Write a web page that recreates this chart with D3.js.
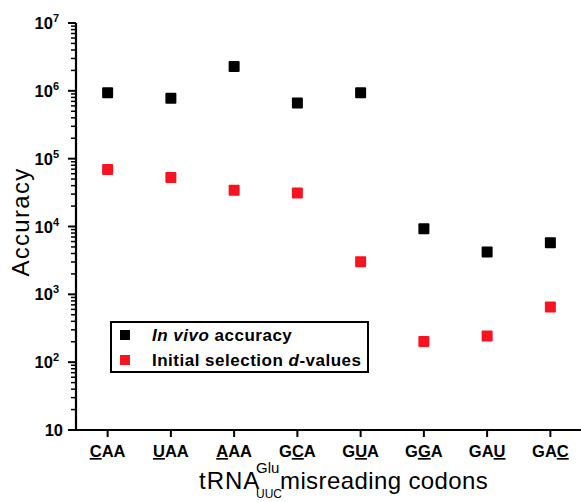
<!DOCTYPE html>
<html>
<head>
<meta charset="utf-8">
<script src="https://cdn.jsdelivr.net/npm/d3@7"></script>
<style>
  body { margin: 0; background: #fff; }
  svg { display: block; font-family: "Liberation Sans", Arial, sans-serif; }
</style>
</head>
<body>
<div id="chart"></div>
<script>
const width = 581, height = 502;

// codons, with the index of the underlined (mismatched) letter
const codons = ["CAA", "UAA", "AAA", "GCA", "GUA", "GGA", "GAU", "GAC"];
const mismatchPos = [0, 0, 0, 1, 1, 1, 2, 2];

// accuracy values
const inVivo = [9.4e5, 7.8e5, 2.28e6, 6.6e5, 9.4e5, 9.25e3, 4.2e3, 5.75e3];
const dValues = [6.9e4, 5.26e4, 3.42e4, 3.13e4, 3.03e3, 201, 244, 650];

const yTickExps = [1, 2, 3, 4, 5, 6, 7];
const seriesNames = ["In vivo accuracy", "Initial selection d-values"];
const seriesColors = ["#000000", "#f7131f"];

const margin = {left: 76, bottom: 430, top: 23, right: 582};

const svg = d3.select("#chart")
  .append("svg")
  .attr("width", width)
  .attr("height", height);

const x = d3.scaleBand()
  .domain(codons)
  .range([margin.left, margin.right]);

const y = d3.scaleLog()
  .domain([10, 1e7])
  .range([margin.bottom, margin.top]);

// y axis with log minor ticks
const minorTicks = [];
for (let e = 1; e < 7; e++) {
  for (let m = 2; m <= 9; m++) minorTicks.push(m * Math.pow(10, e));
}

const yAxis = svg.append("g");
yAxis.selectAll(".minor")
  .data(minorTicks)
  .join("line")
  .attr("x1", margin.left - 5)
  .attr("x2", margin.left)
  .attr("y1", d => y(d))
  .attr("y2", d => y(d))
  .attr("stroke", "#000")
  .attr("stroke-width", 1.5);

yAxis.selectAll(".major")
  .data(yTickExps)
  .join("line")
  .attr("x1", margin.left - 8)
  .attr("x2", margin.left)
  .attr("y1", d => y(Math.pow(10, d)))
  .attr("y2", d => y(Math.pow(10, d)))
  .attr("stroke", "#000")
  .attr("stroke-width", 2);

yAxis.append("line")
  .attr("x1", margin.left)
  .attr("x2", margin.left)
  .attr("y1", y(1e7))
  .attr("y2", y(10) + 1)
  .attr("stroke", "#000")
  .attr("stroke-width", 2.2);

const yLabels = yAxis.selectAll(".ylab")
  .data(yTickExps)
  .join("text")
  .attr("x", d => d === 1 ? 63 : 59)
  .attr("y", d => y(Math.pow(10, d)) + 6)
  .attr("text-anchor", "end")
  .attr("font-weight", "bold")
  .attr("font-size", 16.5);
yLabels.append("tspan").text("10");
yLabels.filter(d => d > 1)
  .append("tspan")
  .attr("font-size", 11)
  .attr("dy", -7)
  .text(d => d);

// x axis
const xAxis = svg.append("g");
xAxis.append("line")
  .attr("x1", margin.left - 1)
  .attr("x2", width)
  .attr("y1", margin.bottom)
  .attr("y2", margin.bottom)
  .attr("stroke", "#000")
  .attr("stroke-width", 2.2);

xAxis.selectAll(".xtick")
  .data(codons)
  .join("line")
  .attr("x1", d => x(d) + x.bandwidth() / 2)
  .attr("x2", d => x(d) + x.bandwidth() / 2)
  .attr("y1", margin.bottom)
  .attr("y2", margin.bottom + 7)
  .attr("stroke", "#000")
  .attr("stroke-width", 2);

const xLabels = xAxis.selectAll(".xlab")
  .data(codons)
  .join("text")
  .attr("x", d => x(d) + x.bandwidth() / 2)
  .attr("y", margin.bottom + 27)
  .attr("text-anchor", "middle")
  .attr("font-weight", "bold")
  .attr("font-size", 16.5);
xLabels.each(function (d, i) {
  const t = d3.select(this);
  d.split("").forEach((ch, j) => {
    t.append("tspan")
      .attr("text-decoration", j === mismatchPos[i] ? "underline" : null)
      .text(ch);
  });
});

// axis titles
svg.append("text")
  .attr("transform", "translate(29,222) rotate(-90)")
  .attr("text-anchor", "middle")
  .attr("font-size", 24)
  .attr("letter-spacing", 1.3)
  .text("Accuracy");

const xTitle = svg.append("g");
xTitle.append("text")
  .attr("x", 199)
  .attr("y", 489)
  .attr("font-size", 24)
  .attr("letter-spacing", 1)
  .text("tRNA");
xTitle.append("text")
  .attr("x", 256)
  .attr("y", 473)
  .attr("font-size", 15)
  .text("Glu");
xTitle.append("text")
  .attr("x", 256)
  .attr("y", 498)
  .attr("font-size", 12)
  .text("UUC");
xTitle.append("text")
  .attr("x", 280)
  .attr("y", 489)
  .attr("font-size", 24)
  .attr("letter-spacing", 0.4)
  .text("misreading codons");

// points
const series = [inVivo, dValues];
const sq = 11;
series.forEach((vals, s) => {
  svg.append("g")
    .selectAll("rect")
    .data(vals)
    .join("rect")
    .attr("x", (d, i) => x(codons[i]) + x.bandwidth() / 2 - sq / 2)
    .attr("y", d => y(d) - sq / 2)
    .attr("width", sq)
    .attr("height", sq)
    .attr("rx", 1)
    .attr("fill", seriesColors[s]);
});

// legend
const legend = svg.append("g").attr("transform", "translate(111,322)");
legend.append("rect")
  .attr("width", 257)
  .attr("height", 50)
  .attr("fill", "#fff")
  .attr("stroke", "#000")
  .attr("stroke-width", 2);
seriesNames.forEach((name, i) => {
  legend.append("rect")
    .attr("x", 9)
    .attr("y", 8 + i * 25)
    .attr("width", 10)
    .attr("height", 10)
    .attr("fill", seriesColors[i]);
  const t = legend.append("text")
    .attr("x", 41)
    .attr("y", 19 + i * 25)
    .attr("font-weight", "bold")
    .attr("font-size", 17)
    .attr("letter-spacing", 0.5);
  if (i === 0) {
    t.append("tspan").attr("font-style", "italic").text("In vivo");
    t.append("tspan").text(" accuracy");
  } else {
    t.append("tspan").text("Initial selection ");
    t.append("tspan").attr("font-style", "italic").text("d");
    t.append("tspan").text("-values");
  }
});
</script>
</body>
</html>
